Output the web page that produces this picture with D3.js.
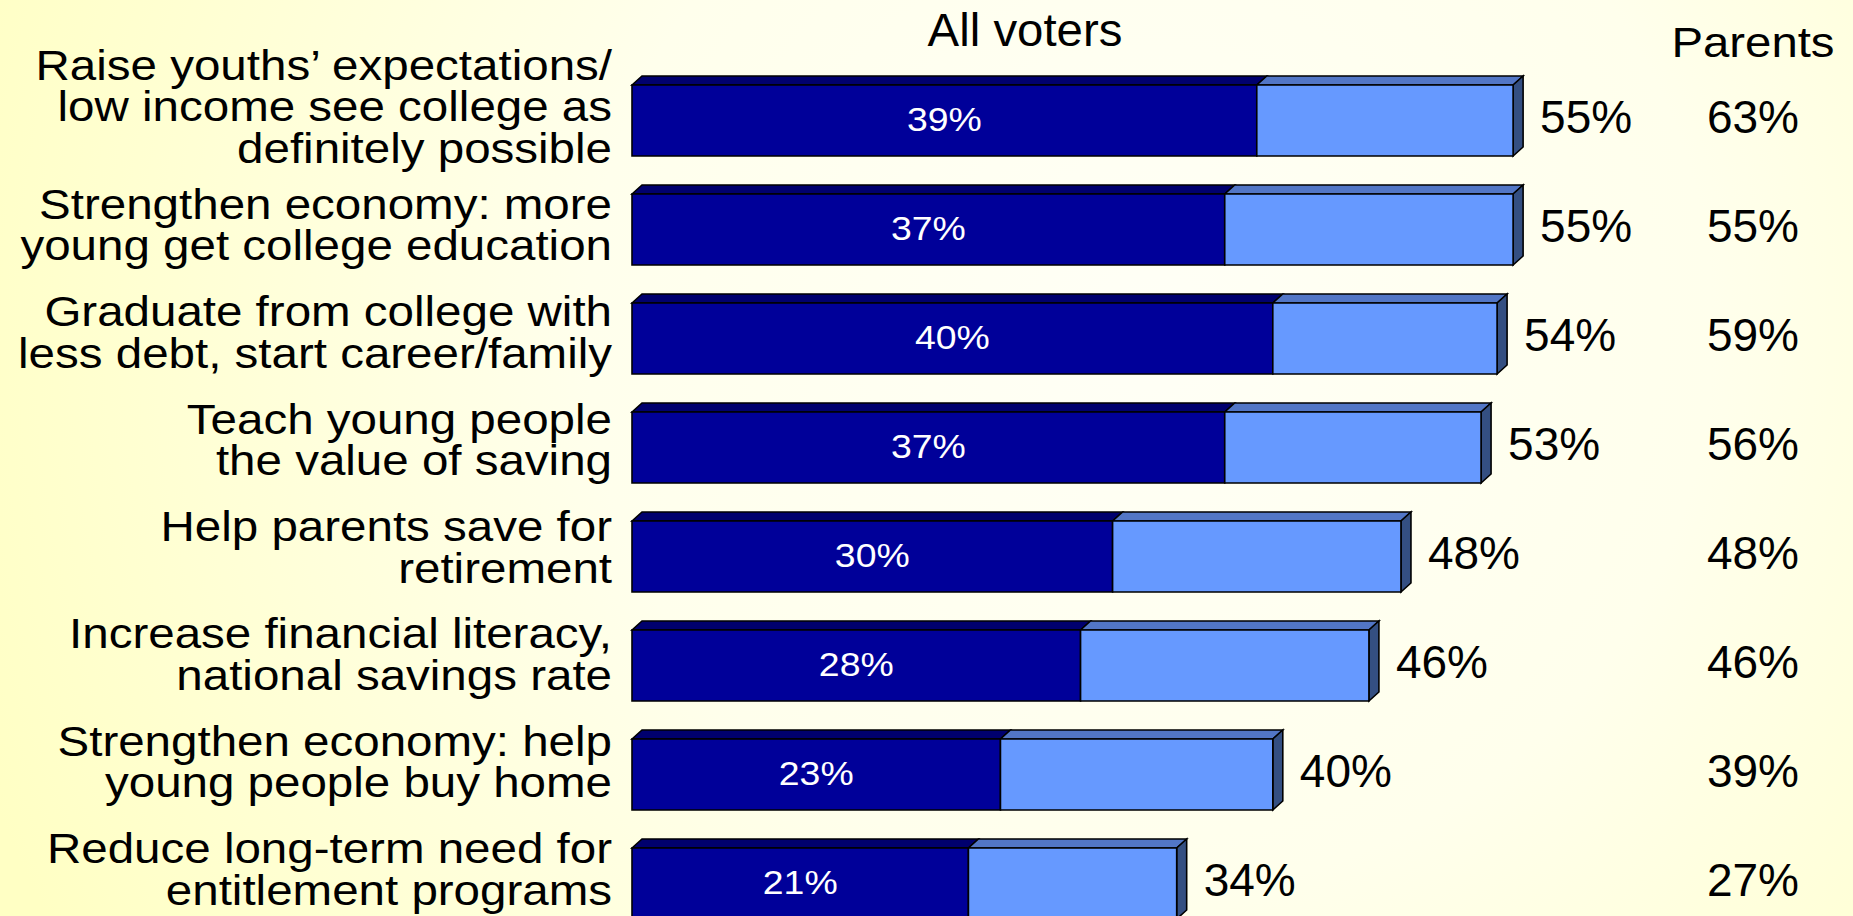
<!DOCTYPE html>
<html>
<head>
<meta charset="utf-8">
<script src="https://cdn.jsdelivr.net/npm/d3@7"></script>
<style>
  html, body { margin: 0; padding: 0; overflow: hidden; }
  svg { display: block; }
  text { font-family: "Liberation Sans", Arial, Helvetica, sans-serif; }
</style>
</head>
<body>
<svg id="chart" width="1853" height="916"></svg>
<script>
const categories = [
  ["Raise youths\u2019 expectations/", "low income see college as", "definitely possible"],
  ["Strengthen economy: more", "young get college education"],
  ["Graduate from college with", "less debt, start career/family"],
  ["Teach young people", "the value of saving"],
  ["Help parents save for", "retirement"],
  ["Increase financial literacy,", "national savings rate"],
  ["Strengthen economy: help", "young people buy home"],
  ["Reduce long-term need for", "entitlement programs"]
];
const strongValues = [39, 37, 40, 37, 30, 28, 23, 21];
const totalValues  = [55, 55, 54, 53, 48, 46, 40, 34];
const parentValues = [63, 55, 59, 56, 48, 46, 39, 27];
const headerAll = "All voters";
const headerParents = "Parents";

const W = 1853, H = 916;
const svg = d3.select("#chart");

// background gradient
const defs = svg.append("defs");
const grad = defs.append("radialGradient").attr("id", "bg")
  .attr("gradientUnits", "userSpaceOnUse")
  .attr("cx", 1150).attr("cy", 330).attr("r", 1250);
grad.append("stop").attr("offset", "0%").attr("stop-color", "#FFFFF6");
grad.append("stop").attr("offset", "45%").attr("stop-color", "#FFFFEC");
grad.append("stop").attr("offset", "100%").attr("stop-color", "#FFFFC4");
svg.append("rect").attr("width", W).attr("height", H).attr("fill", "url(#bg)");

const idx = d3.range(categories.length);
const x = d3.scaleLinear().domain([0, 100]).range([632, 2234]);
const y = d3.scaleBand().domain(idx).range([66, 66 + 8 * 109])
  .paddingInner(38 / 109).paddingOuter(19 / 109);
// category label anchors (labels are spaced slightly tighter than bars)
const yLabel = d3.scalePoint().domain(idx).range([116.6, 868.6]);
const bh = y.bandwidth();
const dx = 10, dy = 9;

const colors = {
  darkFront: "#000099", darkTop: "#00006E",
  lightFront: "#6699FF", lightTop: "#5276C6", lightSide: "#344F82"
};

const g = svg.append("g");
const rows = g.selectAll("g.row").data(idx).join("g").attr("class", "row");

function poly(pts) { return "M" + pts.map(p => p.join(",")).join("L") + "Z"; }

rows.each(function(i) {
  const r = d3.select(this);
  const t = y(i), b = t + bh;
  const x0 = x(0), x1 = x(strongValues[i]), x2 = x(totalValues[i]);
  const st = { stroke: "#000", "stroke-width": 1.6, "stroke-linejoin": "miter" };
  const add = (d, fill) => {
    const p = r.append("path").attr("d", d).attr("fill", fill);
    Object.entries(st).forEach(([k, v]) => p.attr(k, v));
  };
  // top faces
  add(poly([[x0, t], [x0 + dx, t - dy], [x1 + dx, t - dy], [x1, t]]), colors.darkTop);
  add(poly([[x1, t], [x1 + dx, t - dy], [x2 + dx, t - dy], [x2, t]]), colors.lightTop);
  // side
  add(poly([[x2, t], [x2 + dx, t - dy], [x2 + dx, b - dy], [x2, b]]), colors.lightSide);
  // fronts
  add(poly([[x0, t], [x1, t], [x1, b], [x0, b]]), colors.darkFront);
  add(poly([[x1, t], [x2, t], [x2, b], [x1, b]]), colors.lightFront);

  // inner label
  r.append("g")
    .attr("transform", `translate(${(x0 + x1) / 2},${t + bh / 2 + 10}) scale(1.1,1)`)
    .append("text").attr("text-anchor", "middle")
    .attr("font-size", 34).attr("fill", "#FFFFFF")
    .text(strongValues[i] + "%");

  // total label
  r.append("text")
    .attr("x", x2 + dx + 17).attr("y", t + 48)
    .attr("font-size", 46).attr("fill", "#000")
    .text(totalValues[i] + "%");

  // parents
  r.append("text")
    .attr("x", 1753).attr("y", t + 48).attr("text-anchor", "middle")
    .attr("font-size", 46).attr("fill", "#000")
    .text(parentValues[i] + "%");

  // category label (one text element, one tspan per line)
  const lines = categories[i];
  const lh = 41.5;
  const c = yLabel(i) - (lines.length - 2) * 11;
  const firstY = c - (lines.length - 1) / 2 * lh + 15.5;
  const txt = r.append("g").attr("transform", `translate(612,${firstY}) scale(1.105,1)`)
    .append("text").attr("text-anchor", "end")
    .attr("font-size", 43).attr("fill", "#000");
  lines.forEach((ln, k) => {
    txt.append("tspan").attr("x", 0).attr("dy", k === 0 ? 0 : lh).text(ln);
  });
});

// headers
svg.append("g").attr("transform", "translate(1025,46) scale(1.03,1)")
  .append("text").attr("text-anchor", "middle").attr("font-size", 46).attr("fill", "#000")
  .text(headerAll);
svg.append("g").attr("transform", "translate(1753,57) scale(1.1,1)")
  .append("text").attr("text-anchor", "middle").attr("font-size", 43).attr("fill", "#000")
  .text(headerParents);
</script>
</body>
</html>
